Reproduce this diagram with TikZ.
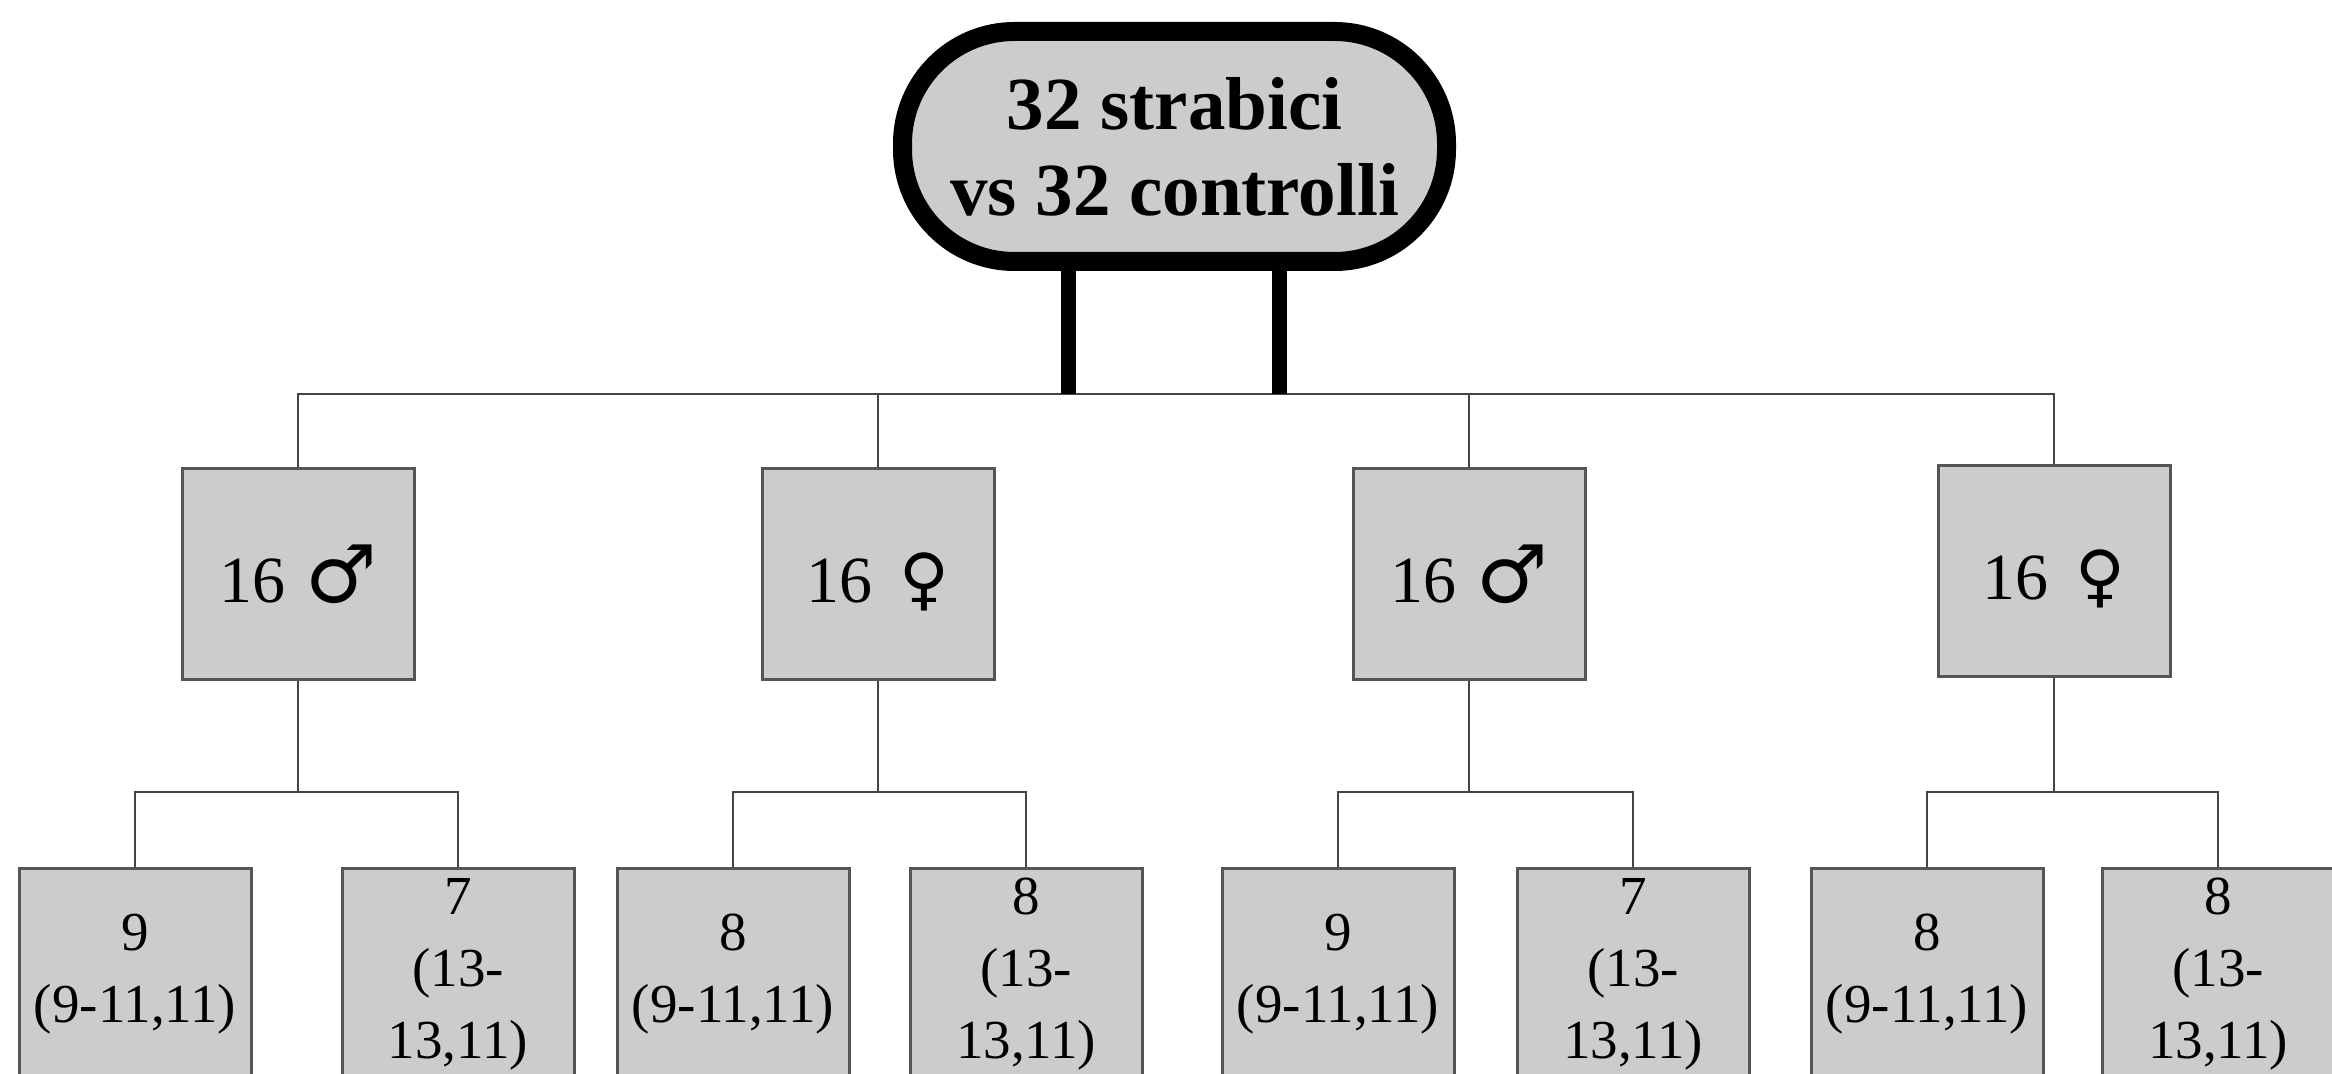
\documentclass[tikz,border=0pt]{standalone}
\usepackage{fontspec}
\setmainfont{Liberation Serif}
\newfontfamily\symfont{DejaVu Sans}
\tikzset{
  x=0.5pt, y=-0.5pt,
  topbox/.style={draw=black, line width=9.5pt, fill=boxgray, rounded corners=56pt,
    minimum width=272pt, minimum height=115pt, inner sep=0pt, align=center,
    font=\fontsize{37.5}{43}\selectfont\bfseries},
  groupbox/.style={draw=edgegray, line width=1.5pt, fill=boxgray,
    minimum width=116pt, minimum height=105pt, inner sep=0pt,
    text height=28pt, text depth=0pt,
    font=\fontsize{33}{37}\selectfont},
  agebox/.style={draw=edgegray, line width=1.5pt, fill=boxgray,
    minimum width=116pt, minimum height=106pt, inner sep=0pt, align=center,
    font=\fontsize{27.5}{36}\selectfont},
  conn/.style={draw=linegray, line width=1pt},
  leg/.style={draw=black, line width=7.5pt},
}
\definecolor{boxgray}{HTML}{CCCCCC}
\definecolor{edgegray}{HTML}{555555}
\definecolor{linegray}{HTML}{444444}
\newcommand{\male}{\hspace{0.3em}{\symfont\fontsize{40}{40}\selectfont ♂}}
\newcommand{\female}{\hspace{0.42em}{\symfont\fontsize{34}{37}\selectfont ♀}}
\begin{document}
\begin{tikzpicture}
\useasboundingbox (0,0) rectangle (2332,1074);
\clip (0,0) rectangle (2332,1074);
\fill[white] (0,0) rectangle (2332,1074);

% bus lines
\coordinate (bus) at (0,394);
\coordinate (l1) at (1068,394);
\coordinate (l2) at (1279,394);

% top node
\node[topbox] (top) at (1174.5,146.5) {32 strabici\\vs 32 controlli};

% sex groups
\node[groupbox] (m1) at (298,574) {16\male};
\node[groupbox] (m2) at (878,574) {16\female\hspace{0.6em}};
\node[groupbox] (m3) at (1469,574) {16\male};
\node[groupbox] (m4) at (2054,571) {16\female\hspace{0.6em}};

% age groups
\node[agebox] (a1) at (135,974) {9\\(9-11,11)};
\node[agebox] (a2) at (458,974) {7\\(13-\\13,11)};
\node[agebox] (a3) at (733,974) {8\\(9-11,11)};
\node[agebox] (a4) at (1026,974) {8\\(13-\\13,11)};
\node[agebox] (a5) at (1338,974) {9\\(9-11,11)};
\node[agebox] (a6) at (1633,974) {7\\(13-\\13,11)};
\node[agebox] (a7) at (1927,974) {8\\(9-11,11)};
\node[agebox] (a8) at (2218,974) {8\\(13-\\13,11)};

% connectors from the top node
\draw[conn] (m1.north) -- (m1.north |- bus) -- (m4.north |- bus) -- (m4.north);
\draw[conn] (m2.north) -- (m2.north |- bus);
\draw[conn] (m3.north) -- (m3.north |- bus);
\draw[leg] (l1 |- top.south) -- (l1);
\draw[leg] (l2 |- top.south) -- (l2);

% connectors to the age groups
\coordinate (sub) at (0,792);
\foreach \p/\u/\v in {m1/a1/a2, m2/a3/a4, m3/a5/a6, m4/a7/a8}{
  \draw[conn] (\p.south) -- (\p.south |- sub);
  \draw[conn] (\u.north) -- (\u.north |- sub) -- (\v.north |- sub) -- (\v.north);
}
\end{tikzpicture}
\end{document}
